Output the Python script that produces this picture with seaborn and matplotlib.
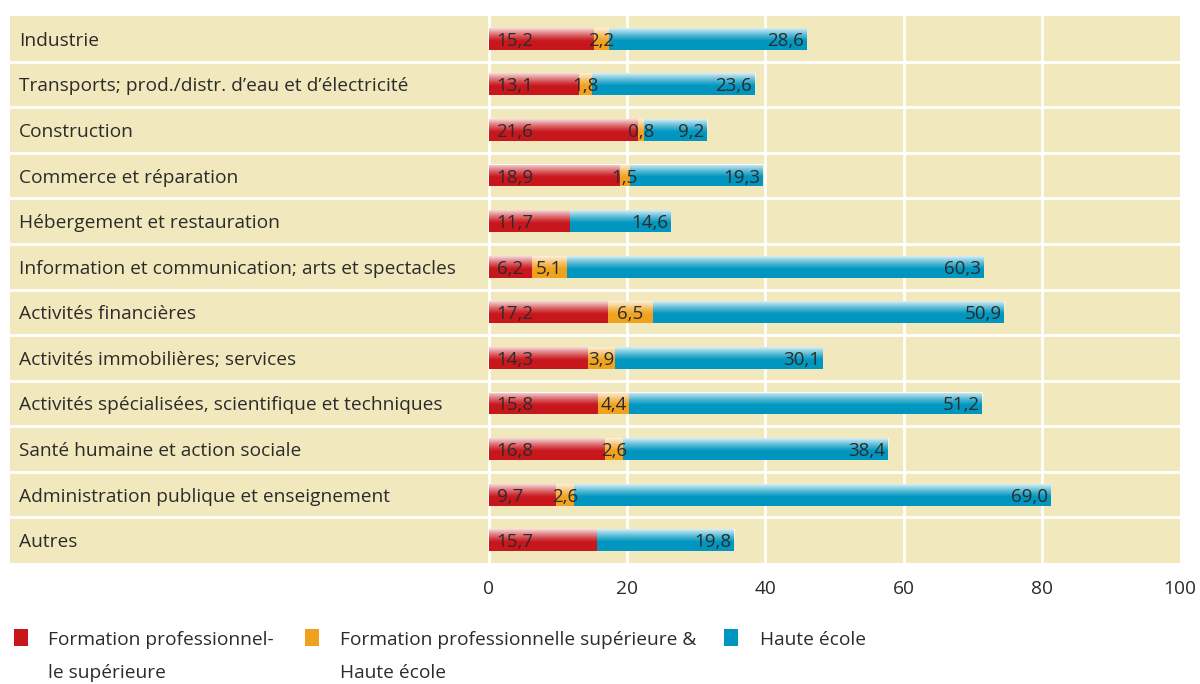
import matplotlib
matplotlib.use("Agg")
import matplotlib.pyplot as plt
from matplotlib.patches import Rectangle
import numpy as np
import seaborn as sns

# data (%)
categories = [
    "Industrie",
    "Transports; prod./distr. d\u2019eau et d\u2019électricité",
    "Construction",
    "Commerce et réparation",
    "Hébergement et restauration",
    "Information et communication; arts et spectacles",
    "Activités financières",
    "Activités immobilières; services",
    "Activités spécialisées, scientifique et techniques",
    "Santé humaine et action sociale",
    "Administration publique et enseignement",
    "Autres",
]
prof_sup = [15.2, 13.1, 21.6, 18.9, 11.7, 6.2, 17.2, 14.3, 15.8, 16.8, 9.7, 15.7]
prof_and_he = [2.2, 1.8, 0.8, 1.5, 0.0, 5.1, 6.5, 3.9, 4.4, 2.6, 2.6, 0.0]
haute_ecole = [28.6, 23.6, 9.2, 19.3, 14.6, 60.3, 50.9, 30.1, 51.2, 38.4, 69.0, 19.8]
legend_labels = ["Formation professionnel-\nle supérieure",
                 "Formation professionnelle supérieure &\nHaute école",
                 "Haute école"]
xticks = [0, 20, 40, 60, 80, 100]

RED = "#c8161d"
ORANGE = "#f0a21f"
BLUE = "#0096bf"
BEIGE = "#f1e9bd"
TXT = "#2b2b2b"

sns.set_style("white")
plt.rcParams["font.family"] = ["Open Sans", "DejaVu Sans"]

p = np.array(prof_sup)
o = np.array(prof_and_he)
h = np.array(haute_ecole)
total = p + o + h

fig = plt.figure(figsize=(12, 6.84), dpi=100)
ax = fig.add_axes([10 / 1200, 1 - 563 / 684, 1170 / 1200, 547 / 684])
ax.set_facecolor(BEIGE)

# stacked bars drawn as overlapping cumulative bars
bw = 0.48
sns.barplot(x=total, y=categories, orient="h", color=BLUE, width=bw,
            saturation=1, ax=ax, zorder=3)
sns.barplot(x=p + o, y=categories, orient="h", color=ORANGE, width=bw,
            saturation=1, ax=ax, zorder=3)
sns.barplot(x=p, y=categories, orient="h", color=RED, width=bw,
            saturation=1, ax=ax, zorder=3)
for patch in ax.patches:
    patch.set_edgecolor("none")

# light sheen on top half of every bar
n = 100
alpha = np.clip(1 - np.linspace(0, 1, n) / 0.6, 0, 1) ** 1.2 * 0.85
grad = np.ones((n, 2, 4))
grad[:, :, 3] = alpha[:, None]
for patch in ax.patches[:len(categories)]:
    x0, y0 = patch.get_x(), patch.get_y()
    w, hh = patch.get_width(), patch.get_height()
    ax.imshow(grad, extent=(x0, x0 + w, y0 + hh, y0), origin="upper",
              aspect="auto", zorder=4, interpolation="bilinear")

# value labels
def fmt(v):
    return f"{v:.1f}".replace(".", ",")

for i in range(len(categories)):
    ax.text(1.1, i, fmt(p[i]), ha="left", va="center_baseline", fontsize=13.5,
            color=TXT, zorder=6)
    if o[i] > 0:
        ax.text(p[i] + o[i] / 2, i, fmt(o[i]), ha="center",
                va="center_baseline", fontsize=13.5, color=TXT, zorder=6)
    ax.text(total[i] - 0.4, i, fmt(h[i]), ha="right", va="center_baseline",
            fontsize=13.5, color=TXT, zorder=6)
    ax.text(-68.0, i, categories[i], ha="left", va="center_baseline",
            fontsize=13.8, color=TXT, zorder=6)

# white grid: row separators and vertical lines
for k in range(1, len(categories)):
    ax.axhline(k - 0.5, color="white", lw=2, zorder=2)
for t in xticks[:-1]:
    ax.axvline(t, color="white", lw=2, zorder=2)

ax.set_xlim(-69.3, 100)
ax.set_ylim(len(categories) - 0.5, -0.5)
ax.set_xticks(xticks)
ax.set_xticklabels([str(t) for t in xticks], fontsize=13.8, color=TXT)
ax.set_yticks([])
ax.set_xlabel("")
ax.set_ylabel("")
ax.tick_params(axis="x", length=0, pad=12)
sns.despine(ax=ax, left=True, bottom=True)

# legend at the bottom
legend_colors = [RED, ORANGE, BLUE]
legend_x = [14, 305, 724]
text_x = [48, 340, 760]
for lab, col, sx, tx in zip(legend_labels, legend_colors, legend_x, text_x):
    fig.add_artist(Rectangle((sx / 1200, 1 - 646 / 684), 14 / 1200, 17 / 684,
                             transform=fig.transFigure, color=col, lw=0))
    fig.text(tx / 1200, 1 - 631 / 684, lab, ha="left", va="top",
             fontsize=13.8, color=TXT, linespacing=2.05)

fig.savefig("out.png", dpi=100)
